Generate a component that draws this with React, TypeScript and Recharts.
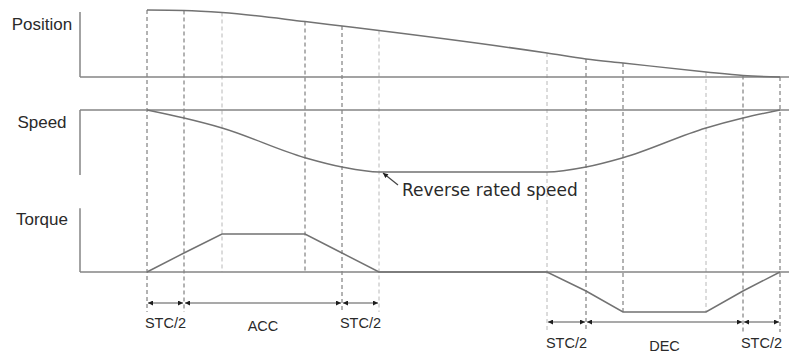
import { ComposedChart, Line, XAxis, YAxis, ReferenceLine, ReferenceDot } from "recharts";

const W = 789;
const H = 354;
const LEFT = 80;

// phase boundaries in ms: STC/2, ACC, STC/2, constant speed, STC/2, DEC, STC/2
const times = [0, 37, 75, 158, 195, 232, 400, 439, 476, 559, 596, 633];
const positionValues = [1.0, 0.993, 0.963, 0.828, 0.761, 0.694, 0.358, 0.269, 0.209, 0.075, 0.022, 0];
const speedValues = [0, -0.13, -0.29, -0.77, -0.92, -1, -1, -0.92, -0.77, -0.29, -0.13, 0];
const torqueValues = [0, 0.5, 1, 1, 0.5, 0, 0, -0.5, -1.05, -1.05, -0.5, 0];

// dashed guides: where they stop (torque units) and how dark they are
const guideEnds = [-1.05, -1.05, 0, 0, -1.05, -1.05, -1.58, -1.58, -1.05, -1.05, -1.58, -1.58];
const guideDark = [true, true, false, true, true, false, false, true, true, false, true, true];

// dimension arrows under the torque panel
const spanFrom = [0, 37, 195, 400, 439, 596];
const spanTo = [37, 195, 232, 439, 596, 633];
const spanLabels = ["STC/2", "ACC", "STC/2", "STC/2", "DEC", "STC/2"];
const spanRow = [-0.816, -0.816, -0.816, -1.316, -1.316, -1.316];
const spanLabelGap = [15, 18, 15, 16, 19, 16];

const panelTitles = ["Position", "Speed", "Torque"];
const panelAxes = ["pos", "speed", "torque"];
const titleLevels = [0.79, -0.19, 1.39];
const axisTops = [0.97, 0, 1.68];
const axisBottoms = [0, -1.05, 0];

const chartData = times.map((t, i) => ({
  t,
  position: positionValues[i],
  speed: speedValues[i],
  torque: torqueValues[i],
}));

// domain that puts vTop at pixel yTop and vBot at pixel yBot
const bandDomain = (vTop: number, yTop: number, vBot: number, yBot: number): [number, number] => {
  const k = (yBot - yTop) / (vTop - vBot);
  return [vBot - (H - yBot) / k, vTop + yTop / k];
};
const posDomain = bandDomain(1, 10, 0, 77);
const speedDomain = bandDomain(0, 110, -1, 172);
const torqueDomain = bandDomain(1, 234, 0, 272);
const toTorque = (v: number, d: [number, number]) =>
  torqueDomain[0] + ((v - d[0]) / (d[1] - d[0])) * (torqueDomain[1] - torqueDomain[0]);

const xDomain: [number, number] = [-67, 642];
const titleX = -105;

const TEXT = "#2a2a2a";
const CURVE = "#727272";
const AXIS = "#858585";
const SANS = "Liberation Sans, Arial, sans-serif";

export default function App() {
  return (
    <div style={{ position: "absolute", left: 0, top: 0, background: "#fff" }}>
      <svg width={0} height={0} style={{ position: "absolute" }}>
        <defs>
          <marker
            id="dimArrow"
            viewBox="0 0 10 10"
            refX={10}
            refY={5}
            markerWidth={6}
            markerHeight={5}
            markerUnits="userSpaceOnUse"
            orient="auto-start-reverse"
          >
            <path d="M0,0 L10,5 L0,10 z" fill="#1e1e1e" />
          </marker>
        </defs>
      </svg>
      <ComposedChart width={W} height={H} data={chartData} margin={{ top: 0, right: 0, bottom: 0, left: LEFT }}>
        <XAxis dataKey="t" type="number" domain={xDomain} allowDataOverflow hide />
        <YAxis yAxisId="pos" type="number" domain={posDomain} allowDataOverflow hide />
        <YAxis yAxisId="speed" type="number" domain={speedDomain} allowDataOverflow hide />
        <YAxis yAxisId="torque" type="number" domain={torqueDomain} allowDataOverflow hide />

        {times.map((t, i) => (
          <ReferenceLine
            key={"g" + i}
            yAxisId="torque"
            segment={[
              { x: t, y: toTorque(positionValues[i], posDomain) },
              { x: t, y: guideEnds[i] },
            ]}
            stroke={guideDark[i] ? "#666" : "#b8b8b8"}
            strokeWidth={1}
            strokeDasharray="4 3"
          />
        ))}

        {panelAxes.map((id) => (
          <ReferenceLine key={"base" + id} yAxisId={id} y={0} stroke={AXIS} strokeWidth={1.5} />
        ))}
        {panelAxes.map((id, i) => (
          <ReferenceLine
            key={"axis" + id}
            yAxisId={id}
            segment={[
              { x: xDomain[0], y: axisTops[i] },
              { x: xDomain[0], y: axisBottoms[i] },
            ]}
            stroke={AXIS}
            strokeWidth={1.5}
          />
        ))}
        {panelAxes.map((id, i) => (
          <ReferenceDot
            key={"title" + id}
            yAxisId={id}
            x={titleX}
            y={titleLevels[i]}
            r={1}
            fill="none"
            stroke="none"
            ifOverflow="visible"
            label={{
              value: panelTitles[i],
              position: "center",
              fill: TEXT,
              fontSize: 17,
              fontFamily: SANS,
            }}
          />
        ))}

        <Line yAxisId="pos" dataKey="position" type="monotone" stroke={CURVE} strokeWidth={1.5} dot={false} isAnimationActive={false} />
        <Line yAxisId="speed" dataKey="speed" type="monotone" stroke={CURVE} strokeWidth={1.5} dot={false} isAnimationActive={false} />
        <Line yAxisId="torque" dataKey="torque" type="linear" stroke={CURVE} strokeWidth={1.5} dot={false} isAnimationActive={false} />

        {spanFrom.map((from, i) => (
          <ReferenceLine
            key={"span" + i}
            yAxisId="torque"
            segment={[
              { x: from + 1, y: spanRow[i] },
              { x: spanTo[i] - 1, y: spanRow[i] },
            ]}
            stroke="#8c8c8c"
            strokeWidth={1.5}
            markerStart="url(#dimArrow)"
            markerEnd="url(#dimArrow)"
            label={{
              value: spanLabels[i],
              position: "bottom",
              offset: spanLabelGap[i],
              fill: TEXT,
              fontSize: 14.5,
              fontFamily: SANS,
            }}
          />
        ))}

        <ReferenceLine
          yAxisId="speed"
          segment={[
            { x: 251, y: -1.21 },
            { x: 236, y: -1.016 },
          ]}
          stroke="#444"
          strokeWidth={1.2}
          markerEnd="url(#dimArrow)"
        />
        <ReferenceDot
          yAxisId="speed"
          x={249}
          y={-1.29}
          r={1}
          fill="none"
          stroke="none"
          label={{
            value: "Reverse rated speed",
            position: "right",
            offset: 5,
            fill: TEXT,
            fontSize: 17,
            fontFamily: "DejaVu Sans, sans-serif",
          }}
        />
      </ComposedChart>
    </div>
  );
}
